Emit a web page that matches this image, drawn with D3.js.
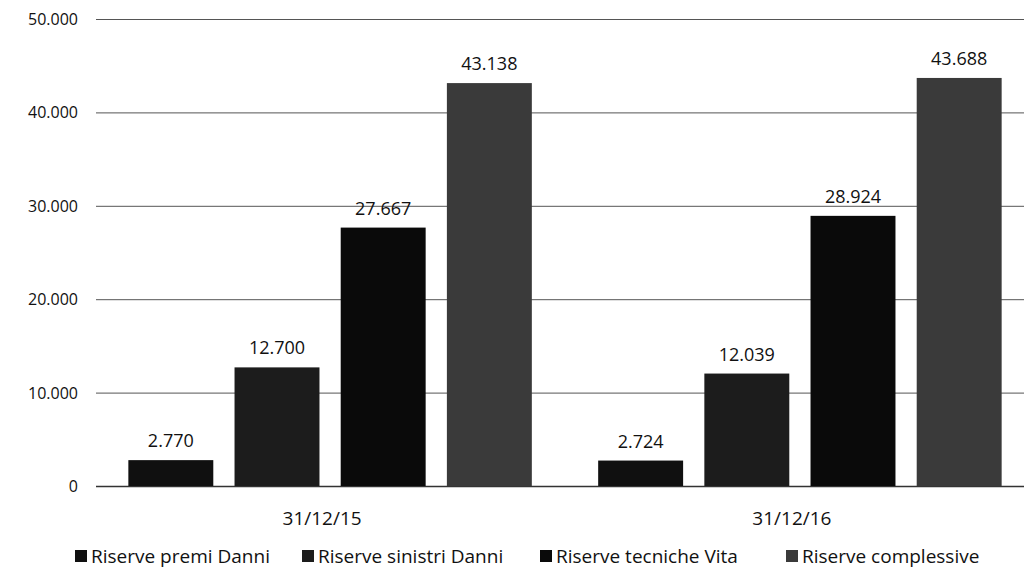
<!DOCTYPE html>
<html><head><meta charset="utf-8">
<script src="https://cdn.jsdelivr.net/npm/d3@7"></script>
<style>body{margin:0;background:#fff}svg{display:block}text{font-family:"Open Sans",sans-serif;fill:#111}</style>
</head><body>
<svg id="c" width="1024" height="576"></svg>
<script>
const dates = ["31/12/15", "31/12/16"];
const seriesNames = ["Riserve premi Danni", "Riserve sinistri Danni", "Riserve tecniche Vita", "Riserve complessive"];
const premiDanni = [2770, 2724];
const sinistriDanni = [12700, 12039];
const tecnicheVita = [27667, 28924];
const complessive = [43138, 43688];
const yTicks = [0, 10000, 20000, 30000, 40000, 50000];
const colors = ["#101010", "#1c1c1c", "#0a0a0a", "#3a3a3a"];

const values = [premiDanni, sinistriDanni, tecnicheVita, complessive];
const fmt = v => d3.format(",")(v).replace(/,/g, ".");

const svg = d3.select("#c");
const y = d3.scaleLinear().domain([0, 50000]).range([486, 19]);
const x0 = d3.scaleBand().domain(dates).range([98, 1032]).paddingInner(0.096).paddingOuter(0.042);
const x1 = d3.scaleBand().domain(seriesNames).range([0, x0.bandwidth()]).paddingInner(0.2).paddingOuter(0.1);

// gridlines
svg.append("g").selectAll("line").data(yTicks).join("line")
  .attr("x1", 96).attr("x2", 1024)
  .attr("y1", d => y(d) + 0.5).attr("y2", d => y(d) + 0.5)
  .attr("stroke", d => d === 0 ? "#333" : "#555").attr("stroke-width", d => d === 0 ? 1.5 : 1);

// y tick labels
svg.append("g").selectAll("text").data(yTicks).join("text")
  .attr("x", 78).attr("y", d => y(d) + 6)
  .attr("text-anchor", "end").attr("font-size", 16)
  .text(d => d === 0 ? "0" : fmt(d));

// bars
const groups = svg.append("g").selectAll("g").data(dates).join("g")
  .attr("transform", d => `translate(${x0(d)},0)`);
groups.selectAll("rect").data((d, i) => seriesNames.map((s, j) => ({s, j, v: values[j][i]}))).join("rect")
  .attr("x", d => x1(d.s)).attr("width", x1.bandwidth())
  .attr("y", d => y(d.v)).attr("height", d => y(0) - y(d.v))
  .attr("fill", d => colors[d.j]);
groups.selectAll("text.val").data((d, i) => seriesNames.map((s, j) => ({s, j, v: values[j][i]}))).join("text")
  .attr("class", "val")
  .attr("x", d => x1(d.s) + x1.bandwidth() / 2).attr("y", d => y(d.v) - 13)
  .attr("text-anchor", "middle").attr("font-size", 18)
  .text(d => fmt(d.v));

// category labels
svg.append("g").selectAll("text").data(dates).join("text")
  .attr("x", d => x0(d) + x0.bandwidth() / 2 - 8).attr("y", 525)
  .attr("text-anchor", "middle").attr("font-size", 19)
  .text(d => d);

// legend
const legX = [75, 302, 540, 786];
const leg = svg.append("g").selectAll("g").data(seriesNames).join("g")
  .attr("transform", (d, i) => `translate(${legX[i]},563)`);
leg.append("rect").attr("x", 0).attr("y", -13).attr("width", 12).attr("height", 12)
  .attr("fill", (d, i) => colors[i]);
leg.append("text").attr("x", 16).attr("y", 0).attr("font-size", 19).text(d => d);
</script>
</body></html>
